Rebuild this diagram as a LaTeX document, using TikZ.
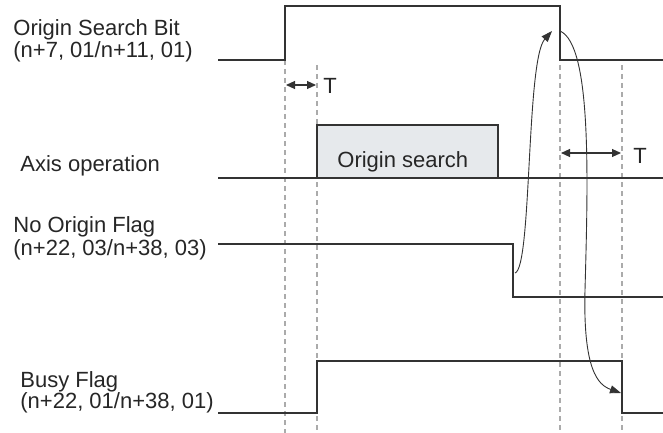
\documentclass[tikz,border=0pt]{standalone}
\usepackage{fontspec}
\setmainfont{Liberation Sans}
\usetikzlibrary{arrows.meta}
\definecolor{sigline}{HTML}{333333}
\definecolor{guidegray}{HTML}{ABABAB}
\definecolor{boxfill}{HTML}{E6E9EC}

\begin{document}
\begin{tikzpicture}[
    x=0.5pt, y=-0.5pt,
    signal/.style={draw=sigline, line width=0.85pt},
    guide/.style={draw=guidegray, line width=0.55pt, dash pattern=on 2.5pt off 2pt},
    lbl/.style={anchor=base west, inner sep=0pt, text=black!85, font=\fontsize{11}{13}\selectfont},
    span/.style={{Triangle[length=4.5pt,width=4pt]}-{Triangle[length=4.5pt,width=4pt]}, line width=0.55pt, sigline},
    cause/.style={-{Triangle[length=5.5pt,width=4pt]}, line width=0.45pt, sigline}
  ]
  \useasboundingbox (0,0) rectangle (663,433);

  % guide lines
  \draw[guide] (285,60) -- (285,433);
  \draw[guide] (317,65) -- (317,433);
  \draw[guide] (560,65) -- (560,433);
  \draw[guide] (622,65) -- (622,433);

  % signal labels
  \node[lbl] (osbname) at (13,36) {Origin Search Bit};
  \node[lbl] (osbaddr) at (13,58) {(n+7, 01/n+11, 01)};
  \node[lbl] (axisname) at (20,171) {Axis operation};
  \node[lbl] (nofname) at (13,232) {No Origin Flag};
  \node[lbl] (nofaddr) at (13,255) {(n+22, 03/n+38, 03)};
  \node[lbl] (busyname) at (20,387) {Busy Flag};
  \node[lbl] (busyaddr) at (20,408) {(n+22, 01/n+38, 01)};

  % waveforms
  \draw[signal] (218,60) -- (285,60) -- (285,6) -- (560,6) -- (560,60) -- (663,60);
  \draw[signal, fill=boxfill] (317,178) rectangle (498,125);
  \node[lbl] (search) at (337,167) {Origin search};
  \draw[signal] (218,178) -- (663,178);
  \draw[signal] (218,244) -- (513,244) -- (513,297) -- (663,297);
  \draw[signal] (218,413) -- (317,413) -- (317,361) -- (622,361) -- (622,413) -- (663,413);

  % edges
  \coordinate (osbfall) at (560,31);
  \coordinate (noffall) at (515,273);
  \coordinate (busyfall) at (621,393);
  \coordinate (t1a) at (286,85);
  \coordinate (t1b) at (316,85);
  \coordinate (t2a) at (561,153);
  \coordinate (t2b) at (621,153);

  % delays
  \draw[span] (t1a) -- (t1b);
  \node[lbl] (t1) at (323,94) {T};
  \draw[span] (t2a) -- (t2b);
  \node[lbl] (t2) at (633,163) {T};

  % cause and effect
  \draw[cause] (noffall) .. controls (532,268) and (526,60) .. ([xshift=-4]osbfall);
  \draw[cause] (osbfall) .. controls (592,45) and (588,180) .. (585,290)
    .. controls (583,370) and (598,385) .. (busyfall);
\end{tikzpicture}
\end{document}
